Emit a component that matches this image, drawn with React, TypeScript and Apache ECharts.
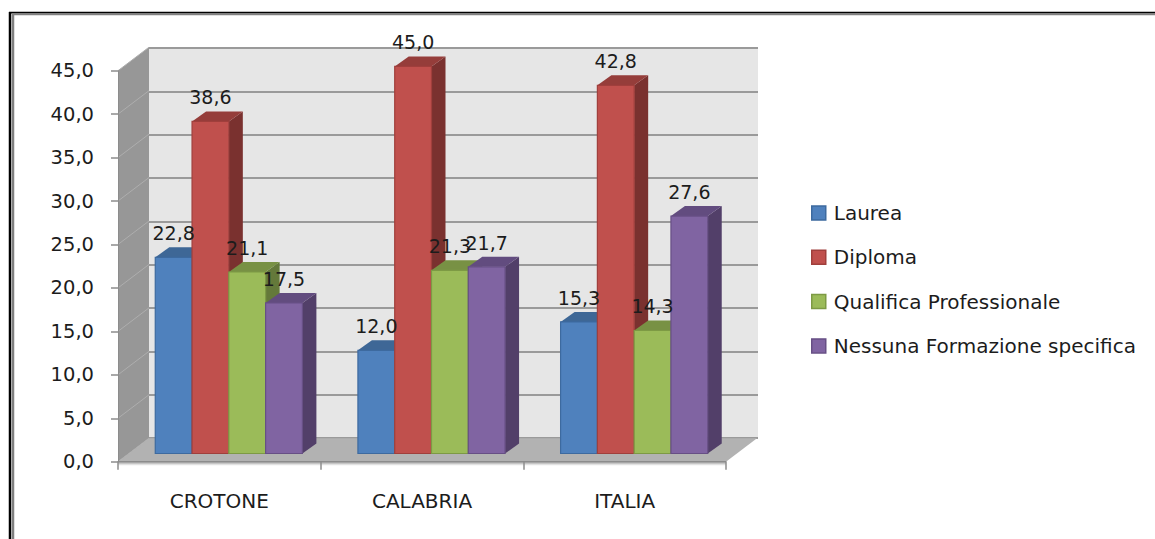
import React, { useEffect, useRef } from "react";
import * as echarts from "echarts";

const categories = ["CROTONE", "CALABRIA", "ITALIA"];
const laurea = [22.8, 12.0, 15.3];
const diploma = [38.6, 45.0, 42.8];
const qualifica = [21.1, 21.3, 14.3];
const nessuna = [17.5, 21.7, 27.6];
const seriesNames = ["Laurea", "Diploma", "Qualifica Professionale", "Nessuna Formazione specifica"];
const seriesValues = [laurea, diploma, qualifica, nessuna];
const yTicks = [0, 5, 10, 15, 20, 25, 30, 35, 40, 45];

const FONT = "DejaVu Sans";
const TEXT = "#1c1c1c";
const palette = [
  { front: "#4f81bd", border: "#3d6a9f", top: "#3e6796", side: "#385d88" },
  { front: "#c0504d", border: "#a03f3c", top: "#953d3a", side: "#7a312f" },
  { front: "#9bbb59", border: "#7d9a44", top: "#789144", side: "#64793a" },
  { front: "#8064a2", border: "#674f85", top: "#624c7f", side: "#523f69" },
];

const DEPTH_X = 31;
const DEPTH_Y = 23.5;

function barRenderer(idx: number) {
  return (_params: any, api: any) => {
    const cat = api.value(0);
    const val = api.value(1);
    const band = api.size([1, 0])[0];
    const w = band * 0.1815;
    const c = api.coord([cat, val]);
    const o = api.coord([cat, 0]);
    const base = o[1] - 8.2;
    const topY = base - (o[1] - c[1]) * 0.99;
    const x0 = o[0] + 9.5 + (idx - 2) * w;
    const x1 = x0 + w;
    const dx = 14;
    const dy = 10;
    const p = palette[idx];
    const children: any[] = [
      {
        type: "polygon",
        shape: { points: [[x1, topY], [x1 + dx, topY - dy], [x1 + dx, base - dy], [x1, base]] },
        style: { fill: p.side },
      },
      {
        type: "polygon",
        shape: { points: [[x0, topY], [x0 + dx, topY - dy], [x1 + dx, topY - dy], [x1, topY]] },
        style: { fill: p.top },
      },
      {
        type: "rect",
        shape: { x: x0, y: topY, width: w, height: base - topY },
        style: { fill: p.front, stroke: p.border, lineWidth: 1.2 },
      },
      {
        type: "text",
        z2: 100,
        x: x0 + w / 2,
        y: topY - 24,
        style: {
          text: val.toFixed(1).replace(".", ","),
          fontFamily: FONT,
          fontSize: 19,
          fill: TEXT,
          textAlign: "center",
          verticalAlign: "middle",
        },
      },
    ];
    return { type: "group", children };
  };
}

function frameRenderer(_params: any, api: any) {
  const cs = _params.coordSys;
  const l = cs.x;
  const r = cs.x + cs.width;
  const t = cs.y;
  const b = cs.y + cs.height;
  const children: any[] = [
    {
      type: "polygon",
      shape: { points: [[l, t], [l + DEPTH_X, t - DEPTH_Y], [l + DEPTH_X, b - DEPTH_Y], [l, b]] },
      style: { fill: "#979797" },
    },
    {
      type: "polygon",
      shape: { points: [[l, b], [l + DEPTH_X, b - DEPTH_Y], [r + DEPTH_X, b - DEPTH_Y], [r, b]] },
      style: { fill: "#b2b2b2" },
    },
    {
      type: "rect",
      shape: { x: l, y: b, width: r - l, height: 2 },
      style: { fill: "#a6a6a6" },
    },
    {
      type: "rect",
      shape: { x: l, y: b + 2, width: r - l, height: 1.5 },
      style: { fill: "#e2e2e2" },
    },
  ];
  yTicks.forEach((v) => {
    const y = api.coord([0, v])[1];
    children.push({
      type: "line",
      shape: { x1: l, y1: y, x2: l + DEPTH_X, y2: y - DEPTH_Y },
      style: { stroke: "#aeaeae", lineWidth: 1 },
    });
  });
  return { type: "group", children };
}

export default function App() {
  const ref = useRef<HTMLDivElement>(null);
  useEffect(() => {
    const chart = echarts.init(ref.current!, undefined, { renderer: "svg" });
    const comma = (v: number) => v.toFixed(1).replace(".", ",");
    chart.setOption({
      animation: false,
      backgroundColor: "#ffffff",
      grid: [
        { left: 118, top: 70.7, width: 608, height: 391, show: false, containLabel: false },
        {
          left: 149,
          top: 48,
          width: 609,
          height: 390,
          show: true,
          backgroundColor: "#e6e6e6",
          borderWidth: 0,
        },
      ],
      xAxis: [
        {
          type: "category",
          gridIndex: 0,
          data: categories,
          z: 5,
          axisLine: { show: true, lineStyle: { color: "#8c8c8c", width: 1 } },
          axisTick: { show: true, length: 8, alignWithLabel: false, lineStyle: { color: "#8c8c8c", width: 1.5 } },
          axisLabel: { margin: 29, color: TEXT, fontFamily: FONT, fontSize: 20 },
          splitLine: { show: false },
        },
        {
          type: "category",
          gridIndex: 1,
          data: categories,
          show: false,
        },
      ],
      yAxis: [
        {
          type: "value",
          gridIndex: 0,
          min: 0,
          max: 45,
          interval: 5,
          z: 5,
          axisLine: { show: true, lineStyle: { color: "#8c8c8c", width: 1 } },
          axisTick: { show: true, length: 7, lineStyle: { color: "#8c8c8c", width: 1.5 } },
          axisLabel: {
            margin: 24,
            color: TEXT,
            fontFamily: FONT,
            fontSize: 19.5,
            padding: [4, 0, 0, 0],
            formatter: comma,
          },
          splitLine: { show: false },
        },
        {
          type: "value",
          gridIndex: 1,
          min: 0,
          max: 45,
          interval: 5,
          axisLine: { show: false },
          axisTick: { show: false },
          axisLabel: { show: false },
          splitLine: { show: true, lineStyle: { color: "#9a9a9a", width: 2 } },
        },
      ],
      legend: {
        orient: "vertical",
        left: 806,
        top: 198,
        itemWidth: 14,
        itemHeight: 14,
        itemGap: 24.3,
        selectedMode: false,
        icon: "rect",
        textStyle: { color: TEXT, fontFamily: FONT, fontSize: 20, padding: [0, 0, 0, 3] },
        data: seriesNames.map((name, i) => ({
          name,
          itemStyle: { color: palette[i].front, borderColor: palette[i].border, borderWidth: 1.5 },
        })),
      },
      graphic: [
        { type: "line", shape: { x1: 10, y1: 12, x2: 10, y2: 539 }, style: { stroke: "#000", lineWidth: 2.5 } },
        { type: "line", shape: { x1: 9, y1: 12.7, x2: 1155, y2: 12.7 }, style: { stroke: "#000", lineWidth: 1.7 } },
        { type: "line", shape: { x1: 13, y1: 14.3, x2: 13, y2: 539 }, style: { stroke: "#808080", lineWidth: 2.5 } },
        { type: "line", shape: { x1: 12, y1: 14.5, x2: 1155, y2: 14.5 }, style: { stroke: "#808080", lineWidth: 1.7 } },
      ],
      series: [
        {
          type: "custom",
          name: "frame",
          xAxisIndex: 0,
          yAxisIndex: 0,
          z: 1,
          clip: false,
          silent: true,
          data: [[0, 0]],
          renderItem: frameRenderer,
        },
        ...seriesNames.map((name, i) => ({
          type: "custom",
          name,
          xAxisIndex: 0,
          yAxisIndex: 0,
          z: 10,
          clip: false,
          itemStyle: { color: palette[i].front },
          encode: { x: 0, y: 1 },
          data: seriesValues[i].map((v, c) => [c, v]),
          renderItem: barRenderer(i),
        })),
      ],
    });
    return () => chart.dispose();
  }, []);
  return (
    <div
      ref={ref}
      style={{ position: "fixed", left: 0, top: 0, width: 1155, height: 539 }}
    />
  );
}
